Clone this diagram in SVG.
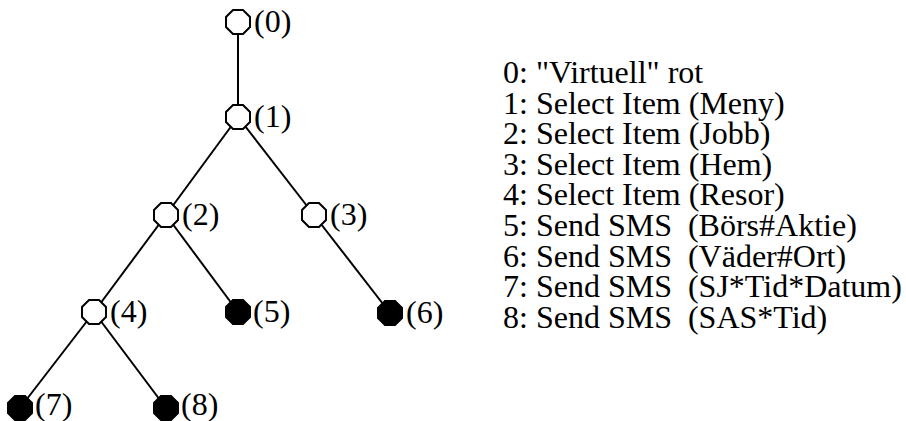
<svg xmlns="http://www.w3.org/2000/svg" width="906" height="421" viewBox="0 0 906 421">
  <style>
    .edge { stroke: #000; stroke-width: 2; fill: none; }
    .open { fill: #fff; stroke: #000; stroke-width: 2; }
    .leaf { fill: #000; stroke: #000; stroke-width: 2; }
    text { font-family: 'Liberation Serif', 'DejaVu Serif', serif; fill: #000; }
    .lbl { font-size: 32px; }
    .legend { font-size: 32px; white-space: pre; }
  </style>
  <defs>
    <!-- octagon centred on the origin -->
    <polygon id="oct" points="-5,-12 5,-12 12,-5 12,5 5,12 -5,12 -12,5 -12,-5"/>
  </defs>
  <rect width="906" height="421" fill="#fff"/>

  <g id="connectors">
    <line class="edge" x1="238" y1="22" x2="238" y2="117"/>
    <line class="edge" x1="238" y1="117" x2="166" y2="215"/>
    <line class="edge" x1="238" y1="117" x2="314" y2="215"/>
    <line class="edge" x1="166" y1="215" x2="94" y2="312"/>
    <line class="edge" x1="166" y1="215" x2="238" y2="312"/>
    <line class="edge" x1="314" y1="215" x2="390" y2="313"/>
    <line class="edge" x1="94" y1="312" x2="20" y2="408"/>
    <line class="edge" x1="94" y1="312" x2="166" y2="408"/>
  </g>

  <g id="node0"><use href="#oct" class="open" x="238" y="22"/><text class="lbl" x="254" y="32">(0)</text></g>
  <g id="node1"><use href="#oct" class="open" x="238" y="117"/><text class="lbl" x="254" y="127">(1)</text></g>
  <g id="node2"><use href="#oct" class="open" x="166" y="215"/><text class="lbl" x="182" y="225">(2)</text></g>
  <g id="node3"><use href="#oct" class="open" x="314" y="215"/><text class="lbl" x="330" y="225">(3)</text></g>
  <g id="node4"><use href="#oct" class="open" x="94" y="312"/><text class="lbl" x="110" y="322">(4)</text></g>
  <g id="node5"><use href="#oct" class="leaf" x="238" y="312"/><text class="lbl" x="253" y="322">(5)</text></g>
  <g id="node6"><use href="#oct" class="leaf" x="390" y="313"/><text class="lbl" x="406" y="323">(6)</text></g>
  <g id="node7"><use href="#oct" class="leaf" x="20" y="408"/><text class="lbl" x="35" y="415">(7)</text></g>
  <g id="node8"><use href="#oct" class="leaf" x="166" y="408"/><text class="lbl" x="181" y="415">(8)</text></g>

  <g id="legend">
    <text class="legend" x="503" y="83">0: "Virtuell" rot</text>
    <text class="legend" x="503" y="114">1: Select Item (Meny)</text>
    <text class="legend" x="503" y="144">2: Select Item (Jobb)</text>
    <text class="legend" x="503" y="175">3: Select Item (Hem)</text>
    <text class="legend" x="503" y="205">4: Select Item (Resor)</text>
    <text class="legend" x="503" y="236">5: Send SMS  (Börs#Aktie)</text>
    <text class="legend" x="503" y="267">6: Send SMS  (Väder#Ort)</text>
    <text class="legend" x="503" y="297">7: Send SMS  (SJ*Tid*Datum)</text>
    <text class="legend" x="503" y="328">8: Send SMS  (SAS*Tid)</text>
  </g>
</svg>
